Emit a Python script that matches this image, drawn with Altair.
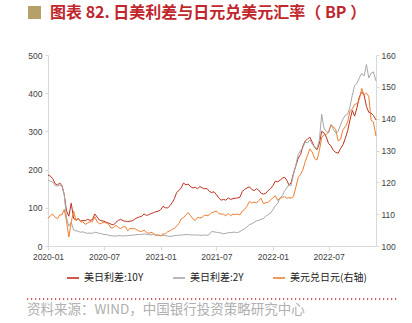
import calendar
import altair as alt
import pandas as pd

title_text = "图表 82. 日美利差与日元兑美元汇率（ BP ）"
source_text = "资料来源：WIND，中国银行投资策略研究中心"
series_names = ["美日利差:10Y", "美日利差:2Y", "美元兑日元(右轴)"]
series_colors = ["#C0311F", "#A8A8A8", "#EE7E32"]

left_ticks = [0, 100, 200, 300, 400, 500]
right_ticks = [100, 110, 120, 130, 140, 150, 160]
x_tick_months = [(2020, 1), (2020, 7), (2021, 1), (2021, 7), (2022, 1), (2022, 7)]

# four readings per month, 2020-01 .. 2022-11, then one last reading on 2022-12-02
spread_10y = [
    186, 183, 176, 163,  # 2020-01
    160, 165, 158, 135,
    92, 78, 112, 72,
    68, 72, 65, 67,
    66, 70, 67, 69,
    84, 76, 68, 66,
    65, 62, 60, 57,
    55, 62, 67, 70,
    66, 65, 64, 65,
    66, 70, 74, 76,
    78, 84, 80, 82,
    85, 87, 90, 91,
    95, 104, 100, 100,  # 2021-01
    106, 114, 124, 140,
    145, 152, 165, 160,
    162, 155, 152, 154,
    150, 156, 152, 150,
    150, 143, 140, 142,
    135, 126, 120, 122,
    120, 126, 122, 124,
    125, 126, 128, 143,
    148, 152, 155, 148,
    145, 150, 146, 138,
    136, 138, 145, 150,
    158, 170, 168, 172,  # 2022-01
    178, 180, 172, 160,
    165, 190, 210, 230,
    240, 262, 275, 280,
    285, 272, 258, 252,
    268, 300, 296, 285,
    268, 262, 250, 245,
    243, 255, 265, 282,
    302, 330, 355, 340,
    362, 390, 403, 395,
    365, 350, 348, 342,
    330,                 # 2022-12-02
]

spread_2y = [
    172, 170, 167, 158,  # 2020-01
    157, 160, 156, 135,
    75, 52, 62, 42,
    40, 38, 36, 37,
    35, 33, 34, 33,
    36, 35, 33, 32,
    30, 30, 28, 27,
    26, 26, 27, 27,
    26, 27, 27, 28,
    28, 29, 30, 30,
    30, 32, 30, 30,
    29, 30, 29, 28,
    27, 28, 27, 26,      # 2021-01
    25, 26, 27, 28,
    28, 29, 29, 30,
    30, 29, 29, 29,
    29, 28, 28, 29,
    28, 30, 38, 37,
    36, 35, 34, 32,
    33, 35, 35, 36,
    36, 35, 38, 42,
    45, 50, 56, 58,
    62, 66, 67, 70,
    72, 78, 82, 86,
    95, 105, 112, 125,   # 2022-01
    132, 145, 152, 160,
    158, 188, 212, 240,
    250, 258, 272, 270,
    278, 266, 260, 255,
    278, 345, 308, 300,
    296, 318, 305, 296,
    300, 318, 332, 342,
    345, 365, 395, 420,
    425, 440, 452, 445,
    475, 440, 452, 456,
    432,                 # 2022-12-02
]

usdjpy = [
    108.6, 109.5, 110.0, 109.0,  # 2020-01
    108.6, 109.8, 109.8, 111.5,
    108.0, 102.8, 107.5, 111.0,
    108.0, 108.6, 107.6, 107.6,
    106.8, 107.2, 107.6, 107.6,
    109.2, 107.6, 107.0, 107.2,
    107.5, 107.2, 106.8, 105.6,
    105.8, 106.5, 105.8, 105.5,
    106.0, 106.1, 104.8, 105.5,
    105.4, 105.5, 105.0, 104.6,
    104.6, 105.0, 104.2, 104.0,
    104.3, 104.0, 103.3, 103.5,
    103.2, 103.8, 103.8, 104.5,  # 2021-01
    104.8, 105.3, 105.5, 106.3,
    107.0, 108.5, 108.9, 109.8,
    110.5, 109.5, 108.5, 108.0,
    109.0, 108.8, 109.0, 109.8,
    109.5, 109.8, 110.5, 110.7,
    111.0, 110.2, 110.0, 110.0,
    109.5, 110.2, 109.5, 110.0,
    109.9, 110.0, 109.8, 111.0,
    111.5, 112.5, 114.0, 113.5,
    113.8, 113.5, 114.3, 115.0,
    113.3, 113.6, 113.7, 114.5,
    115.1, 115.8, 114.3, 115.0,  # 2022-01
    115.3, 115.5, 115.0, 115.2,
    115.0, 115.5, 118.5, 121.5,
    122.5, 124.0, 126.5, 128.5,
    130.5, 129.5, 127.5, 127.0,
    130.0, 134.0, 135.0, 135.0,
    136.0, 138.0, 137.5, 136.5,
    133.0, 133.5, 136.5, 137.5,
    139.0, 142.5, 143.0, 144.5,
    144.7, 146.0, 149.5, 147.5,
    148.0, 147.0, 139.5, 139.0,
    134.5,                       # 2022-12-02
]

# dates: 4 per month + final point
dates = []
y, m = 2020, 1
while (y, m) <= (2022, 11):
    dim = calendar.monthrange(y, m)[1]
    for k in range(4):
        dates.append(pd.Timestamp(y, m, 1) + pd.Timedelta(days=k * dim / 4))
    m += 1
    if m > 12:
        m, y = 1, y + 1
dates.append(pd.Timestamp(2022, 12, 2))

n = len(dates)
left_df = pd.concat([
    pd.DataFrame({"date": dates, "value": spread_10y[:n], "series": series_names[0]}),
    pd.DataFrame({"date": dates, "value": spread_2y[:n], "series": series_names[1]}),
])
right_df = pd.DataFrame({"date": dates, "rate": usdjpy[:n], "series": series_names[2]})

axis_style = dict(domainColor="#D9D9D9", tickColor="#D9D9D9", labelColor="#404040",
                  labelFont="Liberation Sans", labelFontSize=8.5, grid=False, title=None)

x_enc = alt.X(
    "date:T",
    scale=alt.Scale(domain=[alt.DateTime(year=2020, month=1, date=1),
                            alt.DateTime(year=2022, month=12, date=2)]),
    axis=alt.Axis(values=[alt.DateTime(year=yy, month=mm, date=1) for yy, mm in x_tick_months],
                  format="%Y-%m", tickSize=4, labelPadding=2, labelFlush=False, **axis_style),
)

legend_def = alt.Legend(
    title=None, orient="none", legendX=18, legendY=216, direction="horizontal",
    symbolType="stroke", symbolSize=144, symbolStrokeWidth=1.6, columnPadding=25,
    labelFont="Noto Sans CJK SC", labelFontSize=10, labelColor="#222222", labelOffset=4,
)
color_enc = alt.Color("series:N", scale=alt.Scale(domain=series_names, range=series_colors),
                      legend=legend_def)

left = alt.Chart(left_df).mark_line(strokeWidth=1).encode(
    x=x_enc,
    y=alt.Y("value:Q", scale=alt.Scale(domain=[0, 500], nice=False),
            axis=alt.Axis(values=left_ticks, orient="left", tickSize=3, labelPadding=3, **axis_style)),
    color=color_enc,
)

right = alt.Chart(right_df).mark_line(strokeWidth=1).encode(
    x=x_enc,
    y=alt.Y("rate:Q", scale=alt.Scale(domain=[100, 160], nice=False, zero=False),
            axis=alt.Axis(values=right_ticks, orient="right", tickSize=3, labelPadding=2, **axis_style)),
    color=color_enc,
)

one = pd.DataFrame({"t": [title_text], "s": [source_text]})

title_mark = alt.Chart(one).mark_text(
    align="left", baseline="middle", font="Noto Sans CJK SC", fontSize=16,
    fontWeight="bold", color="#C0272D",
).encode(x=alt.value(2), y=alt.value(-42), text="t:N")

square_mark = alt.Chart(one).mark_square(size=169, color="#B5A06A", opacity=1).encode(
    x=alt.value(-13.5), y=alt.value(-42.5))

dots_rule = alt.Chart(one).mark_rule(color="#C0272D", strokeDash=[1.2, 2.8], strokeWidth=1.3).encode(
    x=alt.value(-21), x2=alt.value(350), y=alt.value(244))

source_mark = alt.Chart(one).mark_text(
    align="left", baseline="middle", font="Noto Sans CJK SC", fontSize=13.5, color="#B0B0B0",
).encode(x=alt.value(-21), y=alt.value(255), text="s:N")

chart = alt.layer(left, right, title_mark, square_mark, dots_rule, source_mark).resolve_scale(
    y="independent"
).properties(
    width=328, height=191,
    autosize=alt.AutoSizeParams(type="none"),
    padding={"left": 48, "top": 55, "right": 36, "bottom": 77},
).configure_view(stroke=None)

chart.save("out.html", embed_options={"renderer": "svg", "actions": False})
